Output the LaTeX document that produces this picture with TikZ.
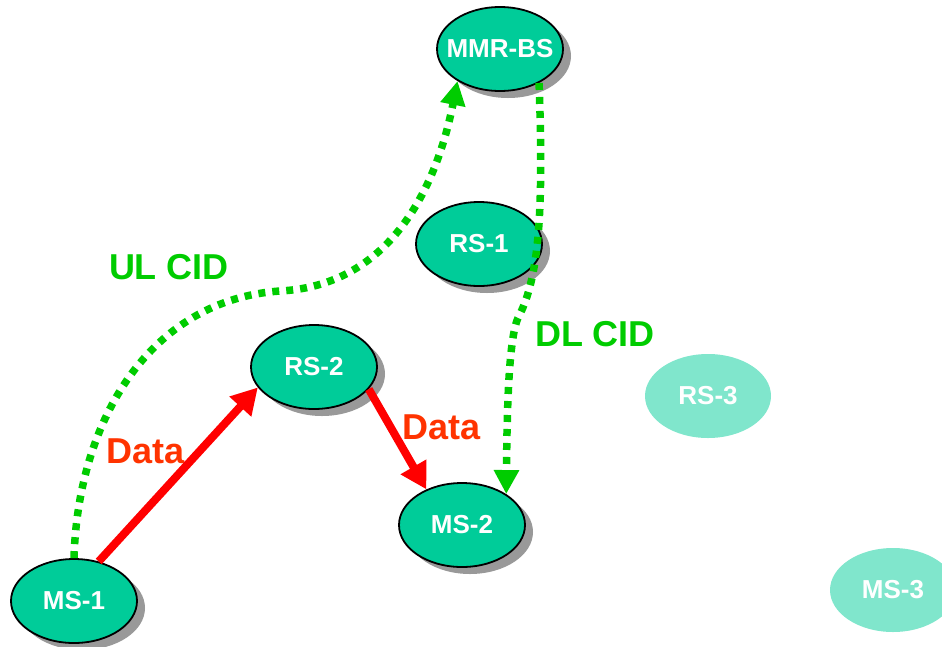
\documentclass[tikz,border=0pt]{standalone}
\usepackage{fontspec}
\setmainfont{Liberation Sans}
\usetikzlibrary{shapes.geometric,shadows,arrows.meta}
\definecolor{nodefill}{HTML}{00CC99}
\definecolor{fadefill}{HTML}{80E6CC}
\definecolor{cidgreen}{HTML}{00CC00}
\definecolor{datared}{HTML}{FF3300}
\definecolor{arrowred}{HTML}{FF0000}
\definecolor{shadowgray}{HTML}{999999}
\begin{document}
\begin{tikzpicture}[x=1pt,y=-1pt,
  station/.style={ellipse, draw=black, line width=1.8pt, fill=nodefill,
    minimum width=126pt, minimum height=84pt, inner sep=0pt, text=white,
    font=\fontsize{26}{26}\selectfont\bfseries,
    drop shadow={shadow xshift=8pt, shadow yshift=-7pt, fill=shadowgray, opacity=1}},
  faded/.style={ellipse, fill=fadefill, minimum width=126pt, minimum height=84pt,
    inner sep=0pt, text=white, font=\fontsize{26}{26}\selectfont\bfseries},
  cidline/.style={draw=cidgreen, line width=7.5pt, dash pattern=on 7pt off 7pt,
    -{Triangle[width=24pt,length=24pt]}},
  dataline/.style={draw=arrowred, line width=8pt, -{Triangle[width=28pt,length=26pt]}},
  cidtext/.style={text=cidgreen, font=\fontsize{36}{36}\selectfont\bfseries, inner sep=0pt},
  datatext/.style={text=datared, font=\fontsize{36}{36}\selectfont\bfseries, inner sep=0pt}
]
\useasboundingbox (0,0) rectangle (942,646);
% nodes
\node[station] (mmr) at (500,49) {\makebox[0pt]{MMR-BS}};
\node[station] (rs1) at (479,244) {RS-1};
\node[station] (rs2) at (314,367) {RS-2};
\node[station] (ms2) at (462,525) {MS-2};
\node[station] (ms1) at (74,601) {MS-1};
\node[faded] (rs3) at (708,396) {RS-3};
\node[faded] (ms3) at (893,590) {MS-3};
% labels
\node[cidtext] (ulcid) at (169,267) {UL CID};
\node[cidtext] (dlcid) at (595,334) {DL CID};
\node[datatext] (data1) at (146,451) {Data};
\node[datatext] (data2) at (442,427) {Data};
% connectors
\draw[cidline] (ms1.north) .. controls (78,420) and (150,300) .. (280,291)
  .. controls (400,285) and (440,170) .. (mmr.217);
\draw[cidline] (mmr.-41.5) .. controls (544,220) and (538,280) .. (518,318)
  .. controls (508,340) and (507,420) .. (ms2.35);
\draw[dataline] (ms1.58) -- (rs2.200);
\draw[dataline] (rs2.-22) -- (ms2.135);
\end{tikzpicture}
\end{document}
